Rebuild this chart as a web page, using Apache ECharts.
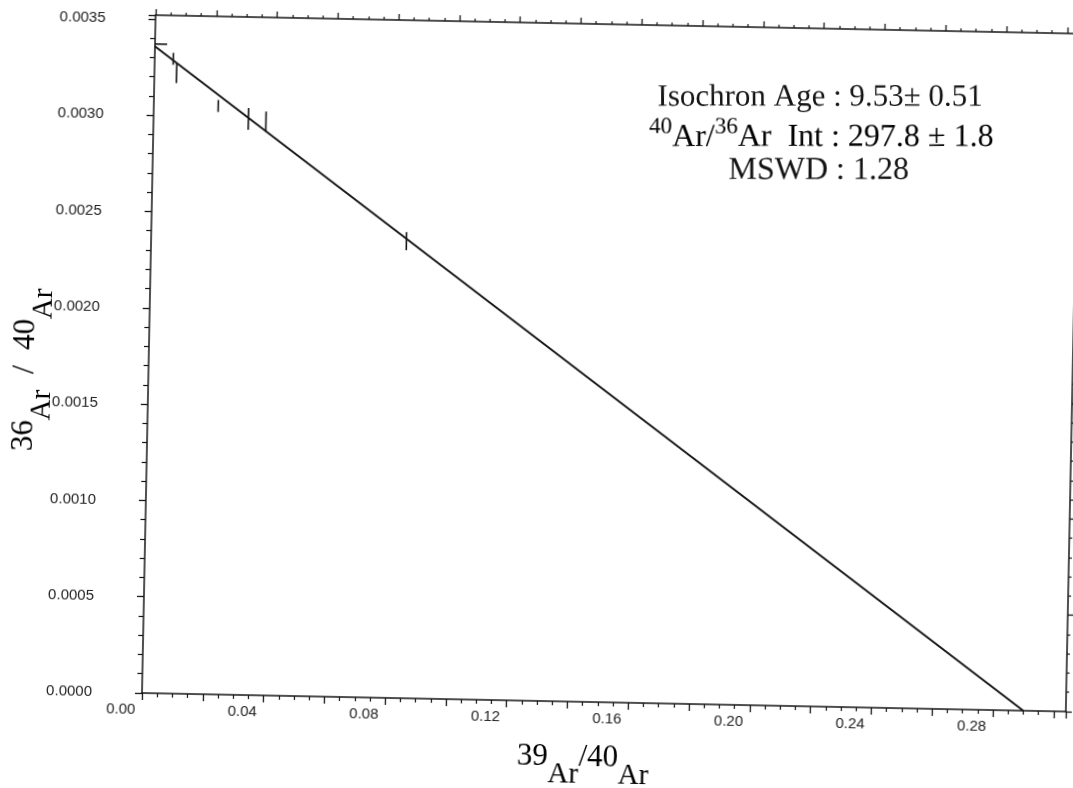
<!DOCTYPE html>
<html>
<head>
<meta charset="utf-8">
<script src="https://cdn.jsdelivr.net/npm/echarts@6/dist/echarts.min.js"></script>
<style>
  html, body { margin: 0; padding: 0; background: #fff; overflow: hidden; }
  /* the printed plot sits slightly tilted on the page */
  #chart { width: 1073px; height: 788px; transform: rotate(1.15deg); transform-origin: 142px 693px; }
</style>
</head>
<body>
<div id="chart"></div>
<script>
// Step data: 39Ar/40Ar (x), 36Ar/40Ar (y) and their 1-sigma errors
const pointX = [0.0020, 0.0061, 0.0073, 0.0212, 0.0312, 0.0370, 0.0840];
const pointY = [0.00337, 0.003295, 0.003222, 0.003055, 0.002991, 0.002979, 0.002373];
const errX   = [0.0020, 0, 0, 0, 0, 0, 0];
const errY   = [0, 0.000031, 0.000052, 0.000031, 0.000057, 0.000052, 0.000047];

// Isochron fit: intercepts on both axes (y-intercept = 1 / 297.8)
const isoX = [0, 0.290];
const isoY = [0.003358, 0];

// Axis extents and tick steps
const xMin = 0, xMax = 0.304, xStep = 0.02;
const yMin = 0, yMax = 0.00352, yStep = 0.0005;

// Fit statistics printed on the plot
const ageText = 'Isochron Age : 9.53\u00b1 0.51';
const intText = ['40', 'Ar/', '36', 'Ar  Int : 297.8 \u00b1 1.8'];
const mswdText = 'MSWD : 1.28';

const TILT = 1.15 * Math.PI / 180;
const INK = '#141414';
const SANS = '"Liberation Sans", Arial, sans-serif';
const SERIF = '"Liberation Serif", "Times New Roman", serif';

const chart = echarts.init(document.getElementById('chart'), null, { renderer: 'canvas' });

function xLabel(v) {
  const k = Math.round(v / xStep);
  if (Math.abs(v / xStep - k) > 1e-6 || k % 2 !== 0) return '';
  return v.toFixed(2);
}
function yLabel(v) {
  const k = Math.round(v / yStep);
  if (Math.abs(v / yStep - k) > 1e-6) return '';
  return v.toFixed(4);
}

const baseAxisLine = { show: true, onZero: false, lineStyle: { color: INK, width: 1.5 } };

const errorData = pointX.map((x, i) => [x, pointY[i], errX[i], errY[i]]);
const fitData = isoX.map((x, i) => [x, isoY[i]]);

const titleRich = {
  d: { fontFamily: SERIF, fontSize: 31, color: INK, lineHeight: 24, verticalAlign: 'top' },
  a: { fontFamily: SERIF, fontSize: 29, color: INK, lineHeight: 48, verticalAlign: 'bottom' }
};

const option = {
  backgroundColor: '#fff',
  animation: false,
  grid: { left: 142, top: 15, width: 924, height: 678, containLabel: false },
  xAxis: [
    {
      type: 'value', position: 'bottom',
      min: xMin, max: xMax, interval: xStep,
      axisLine: baseAxisLine,
      axisTick: { show: true, inside: false, length: 7, lineStyle: { color: INK, width: 1.3 } },
      minorTick: { show: true, splitNumber: 4, length: 4, lineStyle: { color: INK, width: 1.2 } },
      splitLine: { show: false },
      axisLabel: {
        show: true, margin: 9, formatter: xLabel,
        fontFamily: SANS, fontSize: 15, color: '#222',
        padding: [0, 42, 0, 0],
        showMaxLabel: false
      }
    },
    {
      type: 'value', position: 'top',
      min: xMin, max: xMax, interval: xStep,
      axisLine: baseAxisLine,
      axisTick: { show: true, inside: false, length: 6, lineStyle: { color: INK, width: 1.3 } },
      minorTick: { show: true, splitNumber: 4, length: 3, lineStyle: { color: INK, width: 1.2 } },
      splitLine: { show: false },
      axisLabel: { show: false }
    }
  ],
  yAxis: [
    {
      type: 'value', position: 'left',
      min: yMin, max: yMax, interval: yStep,
      axisLine: baseAxisLine,
      axisTick: { show: true, inside: false, length: 7, lineStyle: { color: INK, width: 1.3 } },
      minorTick: { show: true, splitNumber: 5, length: 5, lineStyle: { color: INK, width: 1.2 } },
      splitLine: { show: false },
      axisLabel: {
        show: true, margin: 50, formatter: yLabel,
        fontFamily: SANS, fontSize: 15, color: '#222',
        showMaxLabel: false
      }
    },
    {
      type: 'value', position: 'right',
      min: yMin, max: yMax, interval: yStep,
      axisLine: baseAxisLine,
      axisTick: { show: true, inside: false, length: 6, lineStyle: { color: INK, width: 1.3 } },
      minorTick: { show: true, splitNumber: 5, length: 3, lineStyle: { color: INK, width: 1.2 } },
      splitLine: { show: false },
      axisLabel: { show: false }
    }
  ],
  series: [
    {
      name: 'isochron',
      type: 'line',
      xAxisIndex: 0, yAxisIndex: 0,
      data: fitData,
      symbol: 'none',
      lineStyle: { color: INK, width: 2 },
      z: 3
    },
    {
      name: 'steps',
      type: 'custom',
      xAxisIndex: 0, yAxisIndex: 0,
      data: errorData,
      clip: true,
      renderItem: function (params, api) {
        const x = api.value(0), y = api.value(1), ex = api.value(2), ey = api.value(3);
        const children = [];
        if (ey > 0) {
          const p1 = api.coord([x, y + ey]);
          const p2 = api.coord([x, y - ey]);
          children.push({
            type: 'line',
            shape: { x1: p1[0], y1: p1[1], x2: p2[0], y2: p2[1] },
            style: { stroke: INK, lineWidth: 1.6 }
          });
        }
        if (ex > 0) {
          const p1 = api.coord([x - ex, y]);
          const p2 = api.coord([x + ex, y]);
          children.push({
            type: 'line',
            shape: { x1: p1[0], y1: p1[1], x2: p2[0], y2: p2[1] },
            style: { stroke: INK, lineWidth: 1.6 }
          });
        }
        return { type: 'group', children: children };
      },
      z: 4
    }
  ],
  graphic: [
    {
      type: 'text', x: 584, y: 757,
      style: {
        text: '{d|39}{a|Ar}{d|/40}{a|Ar}',
        rich: titleRich, align: 'center', verticalAlign: 'middle'
      }
    },
    {
      type: 'text', x: 27, y: 372, rotation: Math.PI / 2,
      style: {
        text: '{d|36}{a|Ar}{d|  /  40}{a|Ar}',
        rich: titleRich, align: 'center', verticalAlign: 'middle'
      }
    },
    {
      type: 'text', x: 808, y: 84, rotation: TILT,
      style: {
        text: ageText, fontFamily: SERIF, fontSize: 31, fill: INK,
        align: 'center', verticalAlign: 'middle'
      }
    },
    {
      type: 'text', x: 810, y: 121, rotation: TILT,
      style: {
        text: '{s|' + intText[0] + '}{n|' + intText[1] + '}{s|' + intText[2] + '}{n|' + intText[3] + '}',
        rich: {
          s: { fontFamily: SERIF, fontSize: 23, color: INK, lineHeight: 20, verticalAlign: 'top' },
          n: { fontFamily: SERIF, fontSize: 32, color: INK, lineHeight: 38, verticalAlign: 'bottom' }
        },
        align: 'center', verticalAlign: 'middle'
      }
    },
    {
      type: 'text', x: 808, y: 157, rotation: TILT,
      style: {
        text: mswdText, fontFamily: SERIF, fontSize: 32, fill: INK,
        align: 'center', verticalAlign: 'middle'
      }
    }
  ]
};

chart.setOption(option);
</script>
</body>
</html>
